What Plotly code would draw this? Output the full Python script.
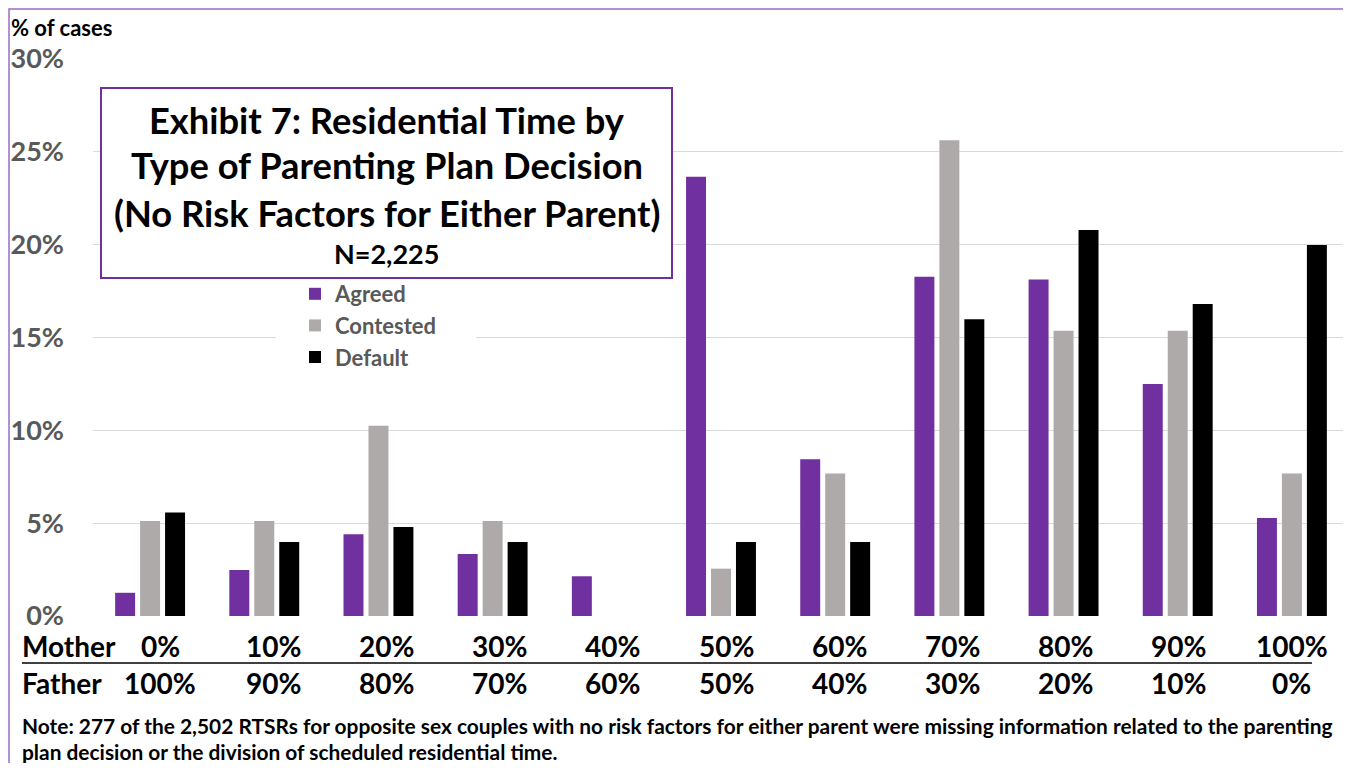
import plotly.graph_objects as go

mother_labels = ["0%", "10%", "20%", "30%", "40%", "50%", "60%", "70%", "80%", "90%", "100%"]
father_labels = ["100%", "90%", "80%", "70%", "60%", "50%", "40%", "30%", "20%", "10%", "0%"]

agreed = [1.25, 2.48, 4.40, 3.34, 2.14, 23.66, 8.44, 18.27, 18.13, 12.49, 5.28]
contested = [5.12, 5.12, 10.25, 5.12, None, 2.55, 7.68, 25.63, 15.36, 15.36, 7.68]
default = [5.58, 3.98, 4.79, 3.98, None, 3.98, 3.98, 15.98, 20.79, 16.80, 19.98]

series_names = ["Agreed", "Contested", "Default"]
series_colors = ["#7030A0", "#AEAAAA", "#000000"]

y_ticks = [0, 5, 10, 15, 20, 25, 30]
y_ticktext = ["0%", "5%", "10%", "15%", "20%", "25%", "30%"]

title_lines = ["Exhibit 7: Residential Time by", "Type of Parenting Plan Decision",
               "(No Risk Factors for Either Parent)"]
n_label = "N=2,225"
note_lines = ["Note: 277 of the 2,502 RTSRs for opposite sex couples with no risk factors for either parent were missing information related to the parenting",
              "plan decision or the division of scheduled residential time."]

FONT = "Lato"
OFF = 8  # default page body margin
W, H = 1351 - OFF, 771 - 2 * OFF
PL, PR, PT, PB = 93, 1349, 59, 616  # plot area in page pixels
L, R, T, B = PL - OFF, (OFF + W) - PR, PT - OFF, (OFF + H) - PB
pw, ph = PR - PL, PB - PT


def px(x):
    return (x - PL) / pw


def py(y):
    return (PB - y) / ph


fig = go.Figure()
for name, vals, col in zip(series_names, [agreed, contested, default], series_colors):
    fig.add_trace(go.Bar(x=mother_labels, y=vals, name=name, marker_color=col,
                         marker_line_width=0))

fig.update_layout(
    width=W, height=H,
    margin=dict(l=L, r=R, t=T, b=B),
    paper_bgcolor="white", plot_bgcolor="white",
    barmode="group", bargap=0.344, bargroupgap=0.2,
    font=dict(family=FONT, color="#000000"),
    showlegend=True,
    legend=dict(x=px(295), y=py(273), xanchor="left", yanchor="top",
                bgcolor="rgba(0,0,0,0)", font=dict(family=FONT, size=22, color="#595959", weight="bold"),
                itemwidth=30, tracegroupgap=0),
    xaxis=dict(showticklabels=False, showgrid=False, zeroline=False, showline=False,
               ticks=""),
    yaxis=dict(range=[0, 30], tickvals=y_ticks, ticktext=y_ticktext,
               showgrid=True, gridcolor="#D9D9D9", gridwidth=1.3, zeroline=False,
               showline=False, ticks="", ticklabelstandoff=28,
               tickfont=dict(family=FONT, size=27, color="#595959", weight="bold")),
)

shapes = []
# outer purple frame
shapes.append(dict(type="rect", xref="paper", yref="paper", x0=px(9), x1=px(1348),
                   y0=py(800), y1=py(9), line=dict(color="#9B6CC4", width=1.5),
                   fillcolor="rgba(0,0,0,0)", layer="below"))
# white legend background (interrupts the gridline)
shapes.append(dict(type="rect", xref="paper", yref="paper", x0=px(276), x1=px(476),
                   y0=py(372), y1=py(281), line=dict(width=0),
                   fillcolor="white", layer="above"))
# title box
shapes.append(dict(type="rect", xref="paper", yref="paper", x0=px(101), x1=px(672),
                   y0=py(278), y1=py(88), line=dict(color="#7030A0", width=2),
                   fillcolor="white", layer="above"))
# separator line between mother and father rows
shapes.append(dict(type="line", xref="paper", yref="paper", x0=px(22), x1=px(1312),
                   y0=py(663), y1=py(663), line=dict(color="#000000", width=1.5)))
fig.update_layout(shapes=shapes)

ann = []
ann.append(dict(text="% of cases", xref="paper", yref="paper", x=px(9), y=py(27),
                xanchor="left", yanchor="middle", showarrow=False,
                font=dict(family=FONT, size=22, color="#000000", weight="bold")))
for txt, yc in zip(title_lines, [120, 165, 213]):
    ann.append(dict(text=txt, xref="paper", yref="paper", x=px(386.5), y=py(yc),
                    xanchor="center", yanchor="middle", showarrow=False,
                    font=dict(family=FONT, size=36.3, color="#000000", weight="bold")))
ann.append(dict(text=n_label, xref="paper", yref="paper", x=px(386.5), y=py(253),
                xanchor="center", yanchor="middle", showarrow=False,
                font=dict(family=FONT, size=27, color="#000000", weight="bold")))
lab_font = dict(family=FONT, size=28, color="#000000", weight="bold")
ann.append(dict(text="Mother", xref="paper", yref="paper", x=px(20), y=py(646),
                xanchor="left", yanchor="middle", showarrow=False, font=lab_font))
ann.append(dict(text="Father", xref="paper", yref="paper", x=px(20), y=py(683),
                xanchor="left", yanchor="middle", showarrow=False, font=lab_font))
n_cat = len(mother_labels)
for i, (m, f) in enumerate(zip(mother_labels, father_labels)):
    # the label table is slightly narrower than the bar groups
    shift = 10 * (1 - i / (n_cat - 1))
    ann.append(dict(text=m, xref="x", yref="paper", x=m, y=py(646), xshift=shift,
                    xanchor="center", yanchor="middle", showarrow=False, font=lab_font))
    ann.append(dict(text=f, xref="x", yref="paper", x=m, y=py(683), xshift=shift,
                    xanchor="center", yanchor="middle", showarrow=False, font=lab_font))
for txt, yc in zip(note_lines, [725, 751]):
    ann.append(dict(text=txt, xref="paper", yref="paper", x=px(20), y=py(yc),
                    xanchor="left", yanchor="middle", showarrow=False,
                    font=dict(family=FONT, size=20.9, color="#000000", weight="bold")))
fig.update_layout(annotations=ann)

fig.write_html("out.html")
